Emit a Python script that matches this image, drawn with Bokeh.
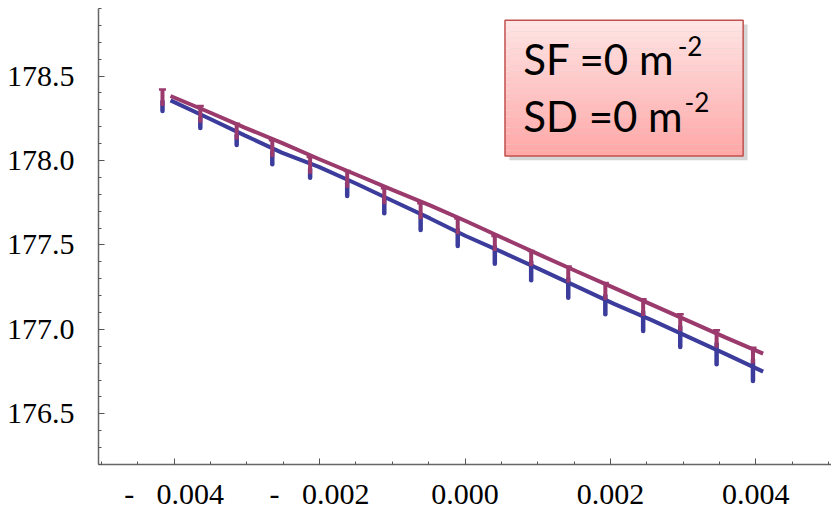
from bokeh.plotting import figure
from bokeh.models import FixedTicker, Range1d, Label, CustomJSTickFormatter
from bokeh.embed import file_html
from bokeh.resources import INLINE

# ---------------- data ----------------
line_x = [-0.00405, -0.00354, -0.00303, -0.00252, -0.00201, -0.00150, -0.00099,
          -0.00048, 0.00001, 0.00052, 0.00103, 0.00154, 0.00205, 0.00256,
          0.00307, 0.00358, 0.00410]
red_line = [178.382, 178.290, 178.195, 178.104, 178.009, 177.917, 177.825, 177.734,
            177.642, 177.541, 177.441, 177.343, 177.246, 177.148, 177.050, 176.953, 176.857]
blue_line = [178.356, 178.253, 178.149, 178.047, 177.962, 177.864, 177.760, 177.657,
             177.553, 177.456, 177.355, 177.253, 177.151, 177.056, 176.956, 176.855, 176.750]

bar_x = [-0.00416, -0.00364, -0.00314, -0.00265, -0.00213, -0.00162, -0.00111,
         -0.00061, -0.00010, 0.00041, 0.00091, 0.00142, 0.00193, 0.00245,
         0.00296, 0.00346, 0.00396]
red_hi = [178.421, 178.322, 178.218, 178.120, 178.021, 177.938, 177.836, 177.747,
          177.656, 177.553, 177.464, 177.372, 177.275, 177.179, 177.090, 176.995, 176.892]
red_lo = [178.322, 178.224, 178.125, 178.021, 177.922, 177.839, 177.741, 177.652,
          177.563, 177.464, 177.376, 177.277, 177.175, 177.080, 176.991, 176.892, 176.798]
blue_hi = [178.350, 178.250, 178.150, 178.050, 177.950, 177.865, 177.770, 177.680,
           177.590, 177.490, 177.400, 177.300, 177.200, 177.105, 177.015, 176.915, 176.820]
blue_lo = [178.293, 178.192, 178.092, 177.978, 177.898, 177.790, 177.688, 177.589,
           177.494, 177.389, 177.291, 177.188, 177.090, 176.991, 176.896, 176.794, 176.695]

x_ticks = [-0.004, -0.002, 0.0, 0.002, 0.004]
x_tick_labels = ["-\u00a0\u00a0\u00a00.004", "-\u00a0\u00a0\u00a00.002", "0.000", "0.002", "0.004"]
y_ticks = [176.5, 177.0, 177.5, 178.0, 178.5]
y_tick_labels = ["176.5", "177.0", "177.5", "178.0", "178.5"]

RED = "#9b3a6c"
BLUE = "#3c3c9c"

LOOKUP = """
let best = 0, bd = Infinity;
for (let i = 0; i < tvals.length; i++) {
  const d = Math.abs(tvals[i] - tick);
  if (d < bd) { bd = d; best = i; }
}
return tlabels[best];
"""

p = figure(frame_width=733, frame_height=456, output_backend="svg", toolbar_location=None,
           x_range=Range1d(-0.00504, 0.00504), y_range=Range1d(176.2, 178.9),
           min_border_left=98, min_border_right=0, min_border_top=8, min_border_bottom=44)
p.outline_line_color = None
p.grid.visible = False
p.background_fill_color = "white"
p.border_fill_color = "white"

x_minor = [-0.005 + 0.0005 * i for i in range(21)]
y_minor = [176.2 + 0.1 * i for i in range(28)]
p.xaxis.ticker = FixedTicker(ticks=x_ticks, minor_ticks=x_minor)
p.yaxis.ticker = FixedTicker(ticks=y_ticks, minor_ticks=y_minor)
p.xaxis.formatter = CustomJSTickFormatter(args=dict(tvals=x_ticks, tlabels=x_tick_labels), code=LOOKUP)
p.yaxis.formatter = CustomJSTickFormatter(args=dict(tvals=y_ticks, tlabels=y_tick_labels), code=LOOKUP)

p.axis.axis_line_color = "#666666"
p.axis.axis_line_width = 1.5
p.axis.major_tick_line_color = "#555555"
p.axis.minor_tick_line_color = "#555555"
p.axis.major_tick_in = 6
p.axis.major_tick_out = 0
p.axis.minor_tick_in = 3
p.axis.minor_tick_out = 0
p.axis.major_label_text_font = "serif"
p.axis.major_label_text_font_size = "30px"
p.axis.major_label_text_color = "black"
p.yaxis.major_label_standoff = 24
p.xaxis.major_label_standoff = 12

# lines
p.line(line_x, blue_line, line_color=BLUE, line_width=4)
p.line(line_x, red_line, line_color=RED, line_width=4)

# error bars
p.segment(bar_x, blue_hi, bar_x, blue_lo, line_color=BLUE, line_width=4.5, line_cap="round")
p.segment(bar_x, red_hi, bar_x, red_lo, line_color=RED, line_width=4)
p.scatter(bar_x, red_hi, marker="dash", size=7, line_color=RED, line_width=2.5, fill_color=RED)

# annotation box
bx0, bx1 = 0.00055, 0.003825
by0, by1 = 178.027, 178.830
dx, dy = 0.00006, 0.025
p.quad(left=[bx0 + dx], right=[bx1 + dx], bottom=[by0 - dy], top=[by1 - dy],
       fill_color="#888888", fill_alpha=0.35, line_color=None)
n = 24
for i in range(n):
    t = i / (n - 1)
    r, g, b = 255, int(228 - (228 - 168) * t), int(228 - (228 - 168) * t)
    top = by1 - (by1 - by0) * i / n
    bot = by1 - (by1 - by0) * (i + 1) / n
    p.quad(left=[bx0], right=[bx1], bottom=[bot], top=[top],
           fill_color=(r, g, b), line_color=None)
p.quad(left=[bx0], right=[bx1], bottom=[by0], top=[by1], fill_color=None,
       line_color="#c0504d", line_width=1.5)

p.add_layout(Label(x=0.000800, y=178.600, text="SF =0 m", text_font="Lato",
                   text_font_size="42px", text_color="black", text_baseline="alphabetic"))
p.add_layout(Label(x=0.002925, y=178.680, text="-2", text_font="Lato",
                   text_font_size="26px", text_color="black", text_baseline="alphabetic"))
p.add_layout(Label(x=0.000800, y=178.262, text="SD =0 m", text_font="Lato",
                   text_font_size="42px", text_color="black", text_baseline="alphabetic"))
p.add_layout(Label(x=0.003020, y=178.345, text="-2", text_font="Lato",
                   text_font_size="26px", text_color="black", text_baseline="alphabetic"))

open("out.html", "w").write(file_html(p, INLINE))
